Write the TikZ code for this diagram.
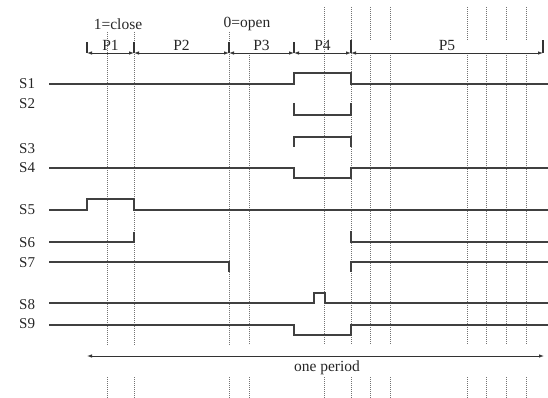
\documentclass[tikz,border=0pt]{standalone}
\usepackage{fontspec}
\setmainfont{Liberation Serif}
\usetikzlibrary{arrows.meta}
\begin{document}
\begin{tikzpicture}[x=1pt,y=-1pt,
  sig/.style={line width=1.4pt,draw=black!75,line join=miter},
  guide/.style={line width=0.9pt,draw=black!55,dash pattern=on 1pt off 1pt},
  tick/.style={line width=1.1pt,draw=black!80},
  span/.style={line width=0.8pt,draw=black!80,{Latex[length=5pt,width=3.5pt]}-{Latex[length=5pt,width=3.5pt]}},
  lbl/.style={font=\fontsize{15}{15}\selectfont,inner sep=0pt,anchor=west,text=black!85},
  txt/.style={font=\fontsize{15.5}{15.5}\selectfont,inner sep=0pt,text=black!85}]
\useasboundingbox (0,0) rectangle (548,398);
% guide lines
\foreach \x in {107,134,229} \draw[guide] (\x,32) -- (\x,345);
\draw[guide] (249,55) -- (249,345);
\foreach \x in {324,351} \draw[guide] (\x,7) -- (\x,345);
\foreach \x in {370,390,467,486,506,526} {\draw[guide] (\x,7) -- (\x,40); \draw[guide] (\x,55) -- (\x,345);}
\foreach \x in {107,134,229,249,324,351,370,390,467,486,506,526} \draw[guide] (\x,377) -- (\x,398);
% phase ticks
\coordinate (t0) at (87,53);
\coordinate (t1) at (134,53);
\coordinate (t2) at (229,53);
\coordinate (t3) at (294,53);
\coordinate (t4) at (351,53);
\coordinate (t5) at (543,53);
\foreach \c/\h in {t0/11,t1/11,t2/11,t3/11,t4/13,t5/13} \draw[tick] (\c) -- ++(0,-\h);
\draw[span] (t0) -- node[txt,above=2pt] (p1) {P1} (t1);
\draw[span] (t1) -- node[txt,above=2pt] (p2) {P2} (t2);
\draw[span] (t2) -- node[txt,above=2pt] (p3) {P3} (t3);
\draw[span] (t3) -- node[txt,above=2pt] (p4) {P4} (t4);
\draw[span] (t4) -- node[txt,above=2pt] (p5) {P5} (t5);
\node[txt] (close) at (118,24) {1=close};
\node[txt] (open) at (247,24) {0=open};
% signal labels
\node[lbl] (s1) at (19,84) {S1};
\node[lbl] (s2) at (19,104) {S2};
\node[lbl] (s3) at (19,149) {S3};
\node[lbl] (s4) at (19,168) {S4};
\node[lbl] (s5) at (19,210) {S5};
\node[lbl] (s6) at (19,243) {S6};
\node[lbl] (s7) at (19,263) {S7};
\node[lbl] (s8) at (19,305) {S8};
\node[lbl] (s9) at (19,324) {S9};
% signals
\draw[sig] (49,84) -- (294,84) -- (294,73) -- (351,73) -- (351,84) -- (548,84);
\draw[sig] (294,103) -- (294,115) -- (351,115) -- (351,103);
\draw[sig] (294,147) -- (294,137) -- (351,137) -- (351,147);
\draw[sig] (49,168) -- (294,168) -- (294,178) -- (351,178) -- (351,168) -- (548,168);
\draw[sig] (49,210) -- (87,210) -- (87,199) -- (134,199) -- (134,210) -- (548,210);
\draw[sig] (49,242) -- (134,242) -- (134,232);
\draw[sig] (351,231) -- (351,242) -- (548,242);
\draw[sig] (49,262) -- (229,262) -- (229,272);
\draw[sig] (351,272) -- (351,262) -- (548,262);
\draw[sig] (49,303) -- (314,303) -- (314,293) -- (325,293) -- (325,303) -- (548,303);
\draw[sig] (49,325) -- (294,325) -- (294,335) -- (351,335) -- (351,325) -- (548,325);
% period
\coordinate (pa) at (87,356);
\coordinate (pb) at (544,356);
\draw[span] (pa) -- (pb);
\node[txt] (period) at (327,368) {one period};
\end{tikzpicture}
\end{document}
